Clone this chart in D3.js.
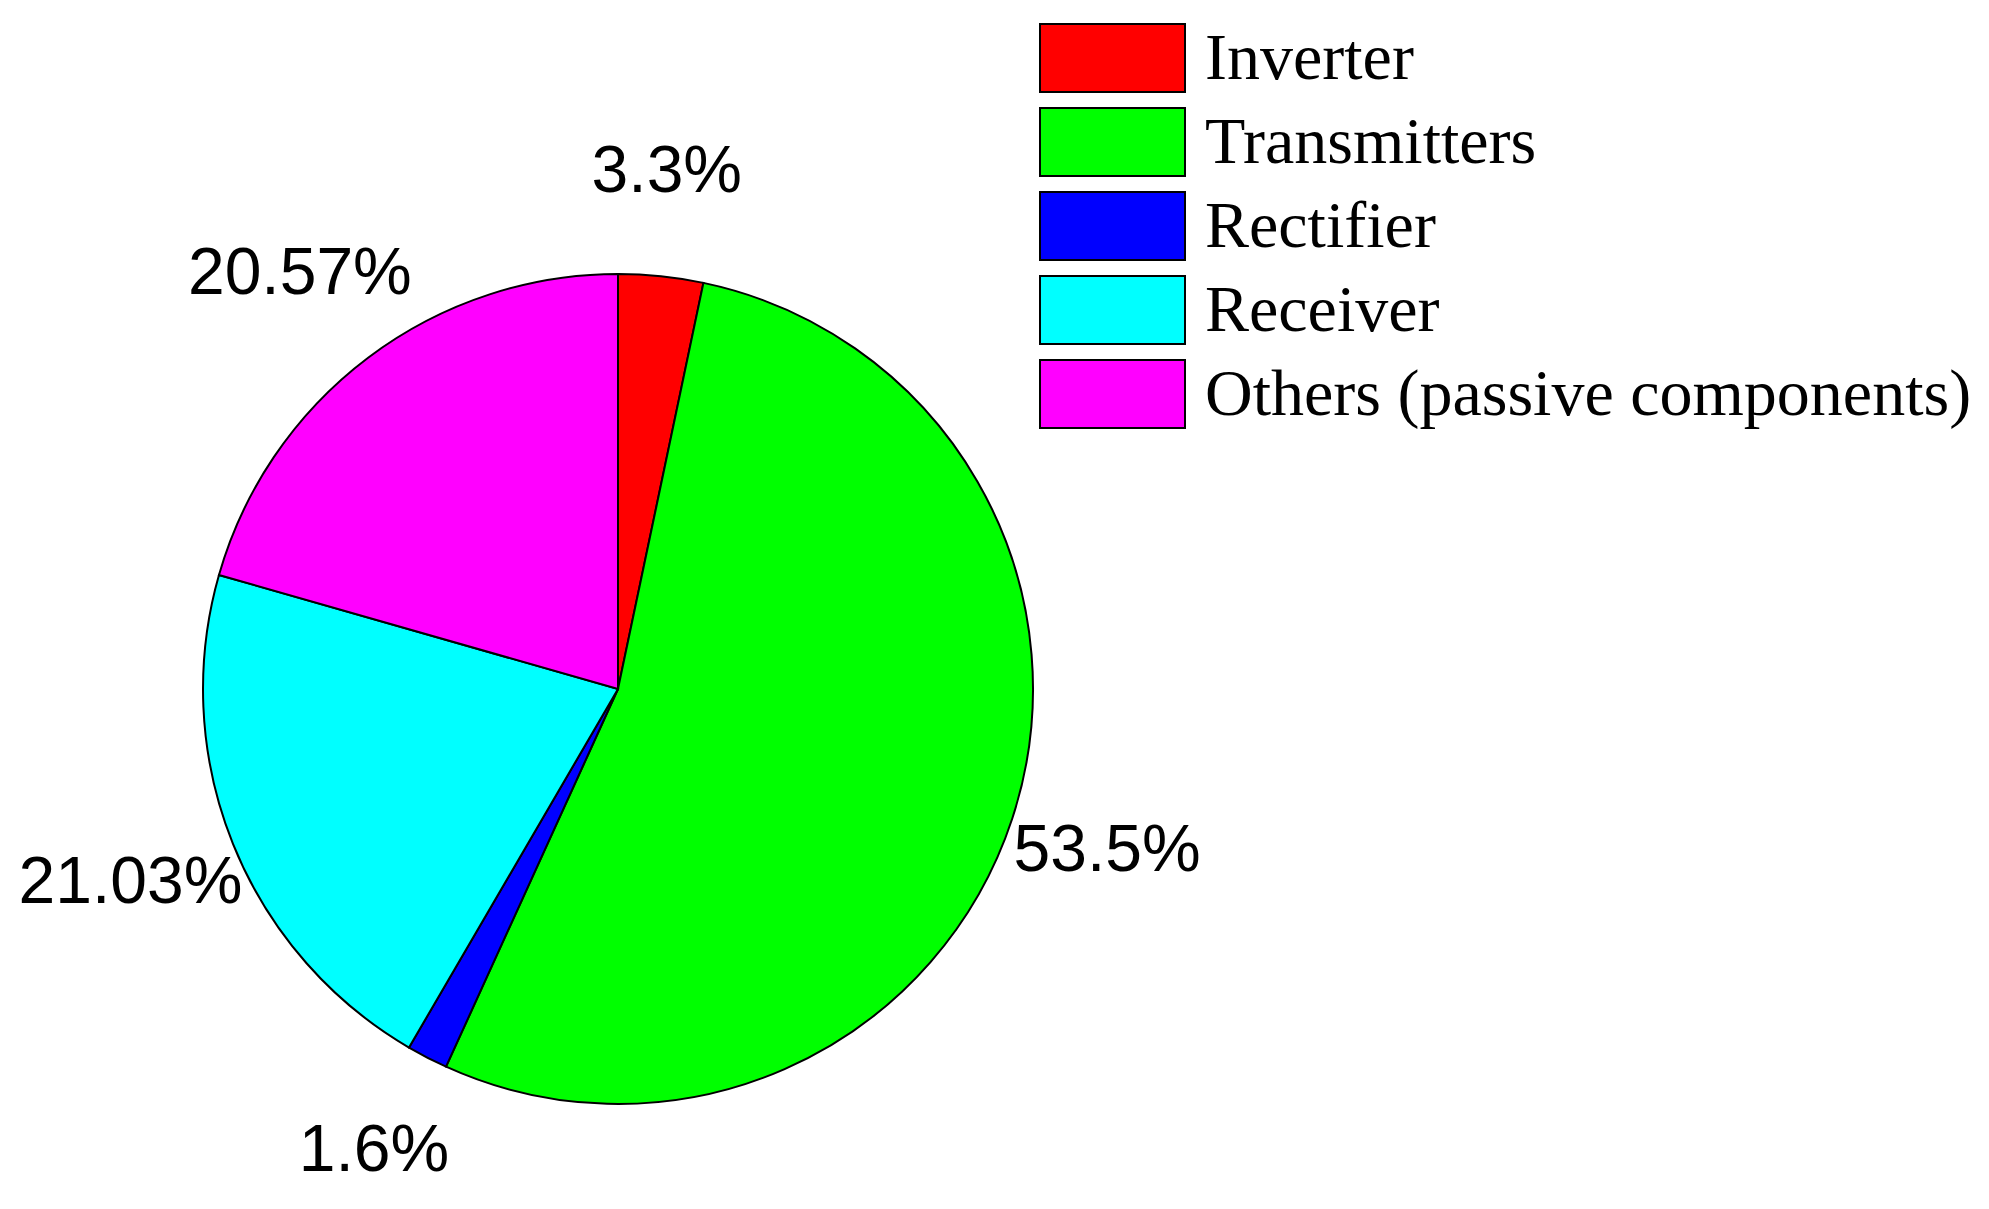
<!DOCTYPE html>
<html>
<head>
<meta charset="utf-8">
<script src="https://cdn.jsdelivr.net/npm/d3@7"></script>
<style>
    body { margin: 0; background: #fff; }
</style>
</head>
<body>
<div id="chart-area"></div>
<script>
'use strict';

let categories = ['Inverter', 'Transmitters', 'Rectifier', 'Receiver', 'Others (passive components)'];
let values = [3.3, 53.5, 1.6, 21.03, 20.57];
let labels = ['3.3%', '53.5%', '1.6%', '21.03%', '20.57%'];
let colors = ['#ff0000', '#00ff00', '#0000ff', '#00ffff', '#ff00ff'];

let width = 1989;
let height = 1209;
let cx = 618;
let cy = 689;
let r = 415;

let svg = d3.select('#chart-area').append('svg')
    .attr('width', width)
    .attr('height', height);

let colour = d3.scaleOrdinal()
    .domain(categories)
    .range(colors);

let pie = d3.pie()
    .sort(null)
    .value(function(d, i) { return values[i]; });

let arcs = pie(categories);

let arc = d3.arc()
    .innerRadius(0)
    .outerRadius(r);

let labelArc = d3.arc()
    .innerRadius(520)
    .outerRadius(520);

let g = svg.append('g')
    .attr('transform', 'translate(' + cx + ',' + cy + ')');

g.selectAll('path')
    .data(arcs)
    .enter()
    .append('path')
        .attr('d', arc)
        .attr('fill', function(d) { return colour(d.data); })
        .attr('stroke', '#000')
        .attr('stroke-width', 2);

g.selectAll('text')
    .data(arcs)
    .enter()
    .append('text')
        .attr('transform', function(d) {
            return 'translate(' + labelArc.centroid(d) + ')';
        })
        .attr('dx', -5)
        .attr('dy', '0.3em')
        .attr('text-anchor', 'middle')
        .attr('font-family', '"Liberation Sans", Arial, sans-serif')
        .attr('font-size', '66px')
        .attr('fill', '#000')
        .text(function(d, i) { return labels[i]; });

// legend
let legend = svg.append('g')
    .attr('transform', 'translate(1040, 24)');

let rows = legend.selectAll('g')
    .data(categories)
    .enter()
    .append('g')
        .attr('transform', function(d, i) {
            return 'translate(0,' + (i * 84) + ')';
        });

rows.append('rect')
    .attr('width', 145)
    .attr('height', 68)
    .attr('fill', function(d) { return colour(d); })
    .attr('stroke', '#000')
    .attr('stroke-width', 2);

rows.append('text')
    .attr('x', 165)
    .attr('y', 55)
    .attr('font-family', '"Liberation Serif", "Times New Roman", serif')
    .attr('font-size', '66px')
    .attr('fill', '#000')
    .text(function(d) { return d; });
</script>
</body>
</html>
